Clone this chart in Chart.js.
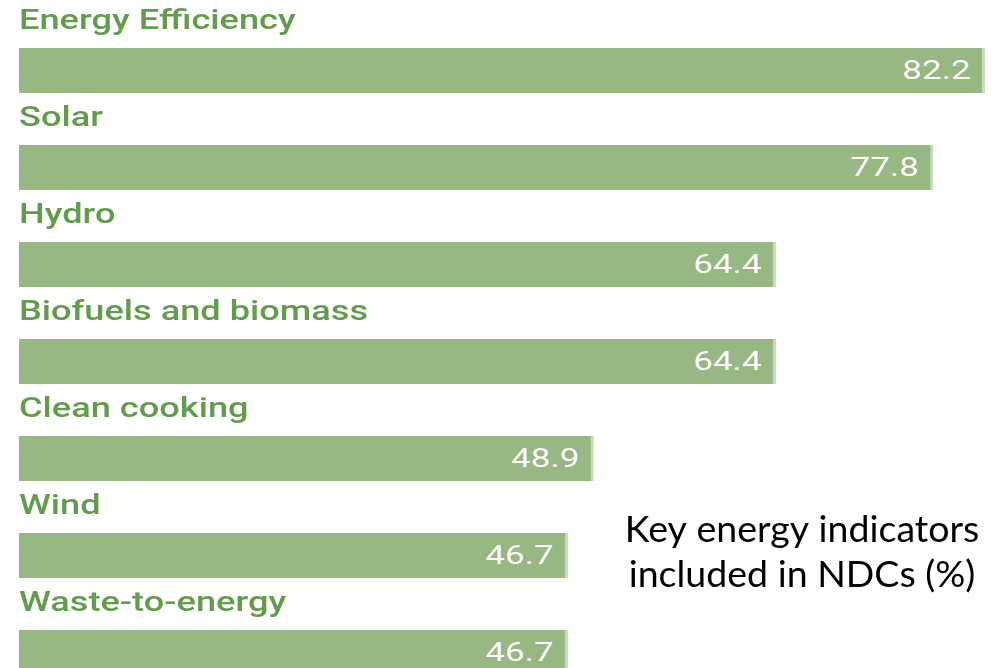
<!DOCTYPE html>
<html>
<head>
<meta charset="utf-8">
<script src="https://cdn.jsdelivr.net/npm/chart.js@4"></script>
<style>
  html, body { margin: 0; padding: 0; background: #fff; overflow: hidden; }
  #wrap { width: 1000px; height: 720px; position: relative; }
</style>
</head>
<body>
<div id="wrap"><canvas id="bars"></canvas></div>
<script>
var categories = ["Energy Efficiency", "Solar", "Hydro", "Biofuels and biomass", "Clean cooking", "Wind", "Waste-to-energy"];
var values = [82.2, 77.8, 64.4, 64.4, 48.9, 46.7, 46.7];
var titleLines = ["Key energy indicators", "included in NDCs (%)"];

// text in the source looks stretched sideways
function wideText(ctx, text, x, y, sx) {
    ctx.save();
    ctx.translate(x, y);
    ctx.scale(sx, 1);
    ctx.fillText(text, 0, 0);
    ctx.restore();
}

var barLabels = {
    id: "barLabels",
    afterDatasetsDraw: function (chart) {
        var ctx = chart.ctx;
        var meta = chart.getDatasetMeta(0);
        ctx.save();
        meta.data.forEach(function (bar, i) {
            var top = bar.y - bar.height / 2;
            ctx.textBaseline = "alphabetic";
            // category name above bar
            ctx.font = "500 27px Roboto";
            ctx.fillStyle = "#629d4c";
            ctx.textAlign = "left";
            wideText(ctx, categories[i], chart.chartArea.left, top - 19, 1.34);
            // value inside bar
            ctx.font = "26px Roboto";
            ctx.fillStyle = "#ffffff";
            ctx.textAlign = "right";
            wideText(ctx, values[i].toFixed(1), bar.x - 14, bar.y + 8, 1.35);
        });
        // caption
        ctx.font = "37.5px Lato";
        ctx.fillStyle = "#000";
        ctx.textAlign = "center";
        ctx.textBaseline = "alphabetic";
        ctx.fillText(titleLines[0], 802, 542);
        ctx.fillText(titleLines[1], 802, 587);
        ctx.restore();
    }
};

new Chart("bars", {
    type: "bar",
    data: {
        labels: categories,
        datasets: [{
            data: values,
            backgroundColor: "#97b882",
            borderColor: "#c9dbbd",
            borderWidth: { top: 0, right: 3, bottom: 0, left: 0 },
            borderSkipped: false,
            barThickness: 45
        }]
    },
    options: {
        indexAxis: "y",
        responsive: true,
        maintainAspectRatio: false,
        animation: false,
        layout: { padding: { left: 19, right: 0, top: 22, bottom: 19 } },
        plugins: {
            legend: { display: false },
            tooltip: { enabled: false }
        },
        scales: {
            x: { display: false, min: 0, max: 83.5 },
            y: { display: false }
        }
    },
    plugins: [barLabels]
});
</script>
</body>
</html>
